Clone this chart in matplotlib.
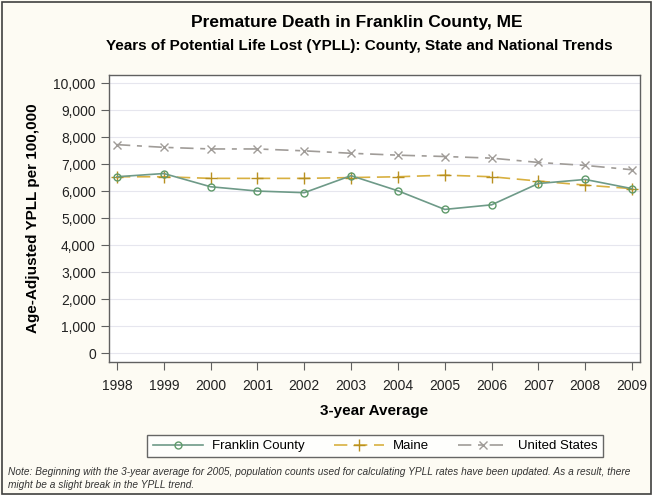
import matplotlib
matplotlib.use("Agg")
import matplotlib.pyplot as plt
from matplotlib.patches import Rectangle
from matplotlib.ticker import FuncFormatter

plt.rcParams["font.family"] = ["Liberation Sans", "DejaVu Sans"]

# Data
years = [1998, 1999, 2000, 2001, 2002, 2003, 2004, 2005, 2006, 2007, 2008, 2009]
franklin = [6530, 6650, 6160, 6000, 5940, 6570, 6010, 5320, 5490, 6280, 6430, 6090]
maine = [6530, 6530, 6470, 6470, 6470, 6500, 6530, 6590, 6530, 6370, 6220, 6090]
us = [7720, 7620, 7560, 7560, 7490, 7400, 7330, 7280, 7220, 7060, 6950, 6790]
y_ticks = list(range(0, 10001, 1000))

W, H = 652, 495
fig = plt.figure(figsize=(W / 100, H / 100), dpi=100)
fig.patch.set_facecolor("#fdfbf3")

# outer border
fig.patches.append(Rectangle((1.5 / W, 1.5 / H), (W - 3) / W, (H - 3) / H,
                             transform=fig.transFigure, fill=False,
                             edgecolor="#404040", linewidth=1.2))

# axes box in pixels: left 109, right 640, top 75, bottom 362
ax = fig.add_axes([109 / W, 1 - 362 / H, (640 - 109) / W, (362 - 75) / H])
ax.set_facecolor("white")

ax.plot(years, franklin, color="#6e9a88", linewidth=1.2, marker="o",
        markersize=5, markerfacecolor="none", markeredgecolor="#5f9a6a",
        markeredgewidth=1, label="Franklin County", zorder=3)
ax.plot(years, maine, color="#d8b040", linewidth=1.2, dashes=(8, 4), marker="+",
        markersize=8, markeredgecolor="#b89020", markeredgewidth=1,
        label="Maine", zorder=2)
ax.plot(years, us, color="#a09c98", linewidth=1.2, dashes=(8, 4, 3, 4), marker="x",
        markersize=6, markeredgecolor="#a09c98", markeredgewidth=1,
        label="United States", zorder=2)

ax.set_xlim(1998 - 0.17, 2009 + 0.17)
ax.set_ylim(-333, 10300)
ax.set_xticks(years)
ax.set_yticks(y_ticks)
ax.yaxis.set_major_formatter(FuncFormatter(lambda v, p: f"{int(v):,}"))
ax.grid(axis="y", color="#e6e6ee", linewidth=0.8)
ax.set_axisbelow(True)
for s in ax.spines.values():
    s.set_color("#606060")
    s.set_linewidth(1)
ax.tick_params(axis="both", labelsize=10, color="#606060", length=6,
               labelcolor="#222222")
ax.tick_params(axis="x", pad=6)

ax.set_xlabel("3-year Average", fontsize=11, fontweight="bold", labelpad=8)
ax.set_ylabel("Age-Adjusted YPLL per 100,000", fontsize=11, fontweight="bold",
              labelpad=10)

fig.text(357 / W, 1 - 22 / H, "Premature Death in Franklin County, ME",
         ha="center", va="center", fontsize=12.5, fontweight="bold")
fig.text(359 / W, 1 - 46 / H,
         "Years of Potential Life Lost (YPLL): County, State and National Trends",
         ha="center", va="center", fontsize=11, fontweight="bold")

leg = fig.legend(loc="center", bbox_to_anchor=(375 / W, 1 - 446 / H), ncol=3,
                 fontsize=9.5, frameon=True, fancybox=False, handlelength=3.8,
                 columnspacing=2.2, handletextpad=0.7, borderpad=0.4)
leg.get_frame().set_edgecolor("#404040")
leg.get_frame().set_linewidth(1)

fig.text(8 / W, 1 - 472 / H,
         "Note: Beginning with the 3-year average for 2005, population counts used for "
         "calculating YPLL rates have been updated. As a result, there",
         ha="left", va="center", fontsize=7.3, style="italic", color="#333333")
fig.text(8 / W, 1 - 485 / H, "might be a slight break in the YPLL trend.",
         ha="left", va="center", fontsize=7.3, style="italic", color="#333333")

fig.savefig("out.png", dpi=100, facecolor=fig.get_facecolor())
